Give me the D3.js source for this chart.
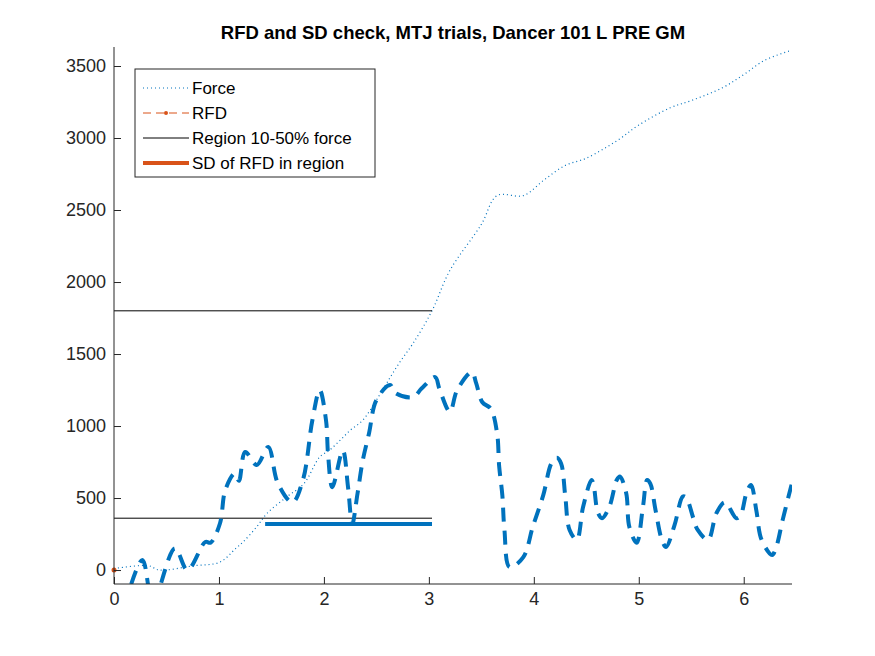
<!DOCTYPE html>
<html>
<head>
<meta charset="utf-8">
<script src="https://cdn.jsdelivr.net/npm/d3@7"></script>
<style>
  body { margin: 0; background: #fff; }
  text { font-family: "Liberation Sans", Arial, sans-serif; }
</style>
</head>
<body>
<svg id="chart" width="875" height="656"></svg>
<script>
const forceX = [0, 0.33, 0.43, 0.76, 1.01, 1.16, 1.23, 1.36, 1.46, 1.65, 1.81, 1.96, 2.05, 2.16, 2.25, 2.37, 2.5, 2.6, 2.72, 2.85, 3.03, 3.2, 3.5, 3.65, 3.9, 4.1, 4.3, 4.5, 4.8, 5.0, 5.3, 5.5, 5.8, 6.0, 6.2, 6.46];
const forceY = [10, 30, 0, 30, 55, 150, 195, 300, 395, 510, 600, 785, 830, 905, 970, 1040, 1180, 1300, 1440, 1575, 1800, 2080, 2400, 2600, 2600, 2710, 2810, 2860, 2985, 3090, 3210, 3260, 3350, 3440, 3540, 3610];

const rfdX = [0.1, 0.27, 0.37, 0.58, 0.7, 0.87, 0.92, 1.01, 1.06, 1.15, 1.19, 1.25, 1.36, 1.47, 1.56, 1.7, 1.8, 1.89, 1.96, 2.02, 2.04, 2.08, 2.18, 2.23, 2.27, 2.32, 2.37, 2.43, 2.5, 2.63, 2.68, 2.85, 2.93, 3.06, 3.1, 3.2, 3.27, 3.41, 3.45, 3.51, 3.59, 3.65, 3.67, 3.7, 3.72, 3.77, 3.9, 3.99, 4.09, 4.17, 4.22, 4.26, 4.3, 4.34, 4.41, 4.47, 4.55, 4.57, 4.61, 4.65, 4.72, 4.79, 4.82, 4.88, 4.91, 4.98, 5.04, 5.08, 5.11, 5.16, 5.22, 5.26, 5.34, 5.42, 5.45, 5.52, 5.56, 5.66, 5.74, 5.82, 5.93, 5.97, 6.03, 6.07, 6.12, 6.17, 6.27, 6.31, 6.37, 6.46];
const rfdY = [-250, 70, -220, 150, 0, 195, 190, 325, 555, 670, 620, 820, 730, 855, 605, 470, 625, 1040, 1250, 1040, 800, 575, 830, 575, 320, 530, 760, 950, 1180, 1285, 1230, 1200, 1260, 1340, 1260, 1100, 1250, 1375, 1300, 1165, 1120, 950, 720, 520, 280, 20, 90, 300, 520, 745, 780, 740, 510, 280, 210, 440, 625, 590, 400, 360, 440, 625, 650, 535, 300, 190, 440, 625, 600, 415, 210, 160, 310, 510, 505, 360, 280, 210, 395, 470, 360, 380, 545, 590, 415, 210, 105, 160, 345, 605];

const regionLow = 360, regionHigh = 1800, regionEnd = 3.03;
const sdStart = 1.44, sdValue = 320;
const xTicks = [0, 1, 2, 3, 4, 5, 6];
const yTicks = [0, 500, 1000, 1500, 2000, 2500, 3000, 3500];
const legendLabels = ["Force", "RFD", "Region 10-50% force", "SD of RFD in region"];

const svg = d3.select("#chart");
const x = d3.scaleLinear().domain([0, 6.46]).range([114, 792]);
const y = d3.scaleLinear().domain([-97, 3632]).range([584, 47]);
const blue = "#0072BD", orange = "#D95319";

svg.append("defs").append("clipPath").attr("id", "clip")
  .append("rect").attr("x", 114).attr("y", 47).attr("width", 678).attr("height", 537);

const plot = svg.append("g").attr("clip-path", "url(#clip)");
const line = d3.line().x(d => x(d[0])).y(d => y(d[1])).curve(d3.curveCatmullRom);

plot.append("path").datum(d3.zip(forceX, forceY)).attr("d", line)
  .attr("fill", "none").attr("stroke", blue).attr("stroke-width", 1.2).attr("stroke-dasharray", "1 3");

[regionLow, regionHigh].forEach(v => {
  plot.append("line").attr("x1", x(0)).attr("x2", x(regionEnd)).attr("y1", y(v)).attr("y2", y(v))
    .attr("stroke", "#000").attr("stroke-width", 1);
});

plot.append("path").datum(d3.zip(rfdX, rfdY)).attr("d", line)
  .attr("fill", "none").attr("stroke", blue).attr("stroke-width", 4).attr("stroke-dasharray", "14 9");

plot.append("line").attr("x1", x(sdStart)).attr("x2", x(regionEnd)).attr("y1", y(sdValue)).attr("y2", y(sdValue))
  .attr("stroke", blue).attr("stroke-width", 4);

svg.append("circle").attr("cx", x(0)).attr("cy", y(0)).attr("r", 2.5).attr("fill", orange);

const xAxis = svg.append("g").attr("transform", "translate(0,584)")
  .call(d3.axisBottom(x).tickValues(xTicks).tickSize(-7).tickPadding(8).tickFormat(d3.format("d")));
const yAxis = svg.append("g").attr("transform", "translate(114,0)")
  .call(d3.axisLeft(y).tickValues(yTicks).tickSize(-7).tickPadding(8).tickFormat(d3.format("d")));
[xAxis, yAxis].forEach(a => {
  a.selectAll("path,line").attr("stroke", "#262626");
  a.selectAll("text").attr("font-size", 18).attr("fill", "#262626");
});
yAxis.select(".domain").attr("d", "M0,47V584");
xAxis.select(".domain").attr("d", "M114,0H792");

svg.append("text").attr("x", 453).attr("y", 39).attr("text-anchor", "middle")
  .attr("font-size", 18.5).attr("font-weight", "bold").attr("fill", "#000")
  .text("RFD and SD check, MTJ trials, Dancer 101 L PRE GM");

const lg = svg.append("g").attr("transform", "translate(135,69)");
lg.append("rect").attr("width", 240).attr("height", 108).attr("fill", "#fff").attr("stroke", "#262626");
legendLabels.forEach((t, i) => {
  const yy = 19 + i * 25;
  const l = lg.append("line").attr("x1", 8).attr("x2", 54).attr("y1", yy).attr("y2", yy);
  if (i === 0) l.attr("stroke", blue).attr("stroke-dasharray", "1 3");
  if (i === 1) { l.attr("stroke", orange).attr("stroke-dasharray", "8 5");
    lg.append("circle").attr("cx", 31).attr("cy", yy).attr("r", 2).attr("fill", orange); }
  if (i === 2) l.attr("stroke", "#000");
  if (i === 3) l.attr("stroke", orange).attr("stroke-width", 4);
  lg.append("text").attr("x", 57).attr("y", yy + 6).attr("font-size", 17).attr("fill", "#000").text(t);
});
</script>
</body>
</html>
